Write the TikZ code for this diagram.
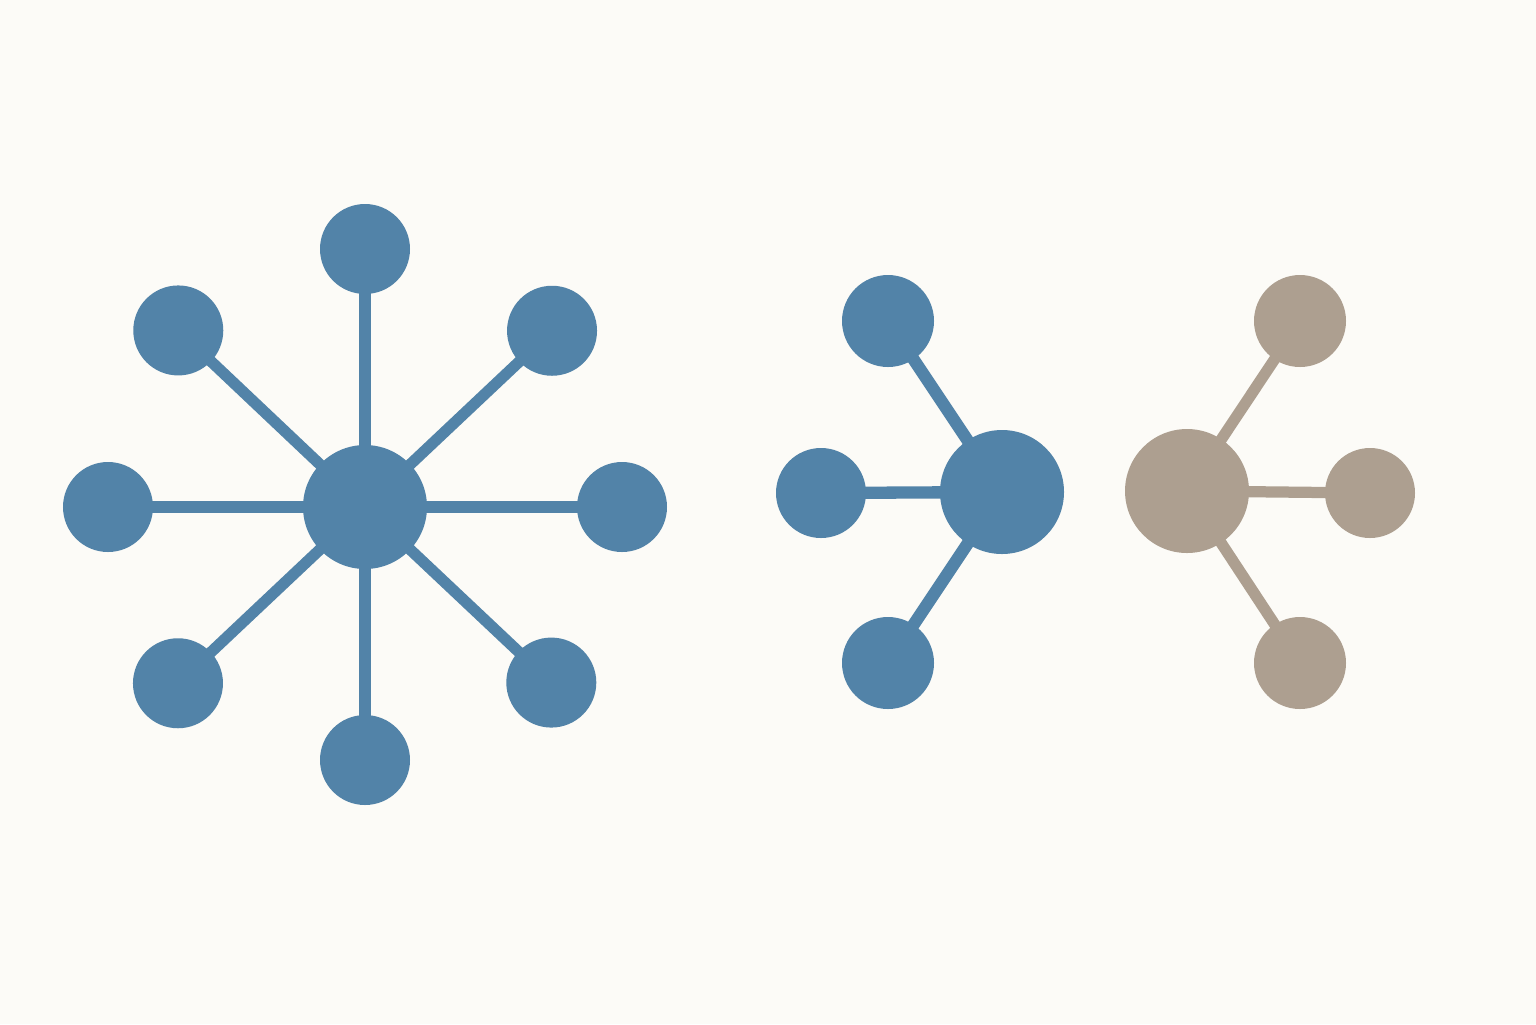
\documentclass[tikz,border=0pt]{standalone}
\usetikzlibrary{backgrounds}
\definecolor{paper}{HTML}{FCFBF7}
\definecolor{steel}{HTML}{5283A8}
\definecolor{sand}{HTML}{AD9F90}
\tikzset{
  leaf/.style={circle, fill=#1, minimum size=0.9cm, inner sep=0pt},
  leaf/.default=steel,
  hub/.style={circle, fill=#1, minimum size=1.24cm, inner sep=0pt},
  hub/.default=steel,
  link/.style={line width=3.2pt, draw=#1},
  link/.default=steel,
}
\begin{document}
\begin{tikzpicture}
      \begin{pgfonlayer}{background}
        \fill[paper] (0,0) rectangle (15.36,-10.24);
      \end{pgfonlayer}
      \useasboundingbox (0,0) rectangle (15.36,-10.24);
      \begin{scope}[shift={(3.65,-5.07)}]
        \draw
          (0,0) node[hub] (a){}
          (0.0:2.57) node[leaf] (a0){}
          (43.3:2.57) node[leaf] (a1){}
          (90.0:2.58) node[leaf] (a2){}
          (136.6:2.57) node[leaf] (a3){}
          (180.0:2.57) node[leaf] (a4){}
          (223.3:2.57) node[leaf] (a5){}
          (270.0:2.53) node[leaf] (a6){}
          (316.7:2.56) node[leaf] (a7){};
      \end{scope}
      \draw
        (10.02,-4.92) node[hub] (b){}
        (8.88,-3.21) node[leaf=steel, minimum size=0.92cm] (b0){}
        (8.21,-4.93) node[leaf] (b1){}
        (8.88,-6.63) node[leaf=steel, minimum size=0.92cm] (b2){}
        (11.87,-4.91) node[hub=sand] (c){}
        (13.00,-3.21) node[leaf=sand, minimum size=0.92cm] (c0){}
        (13.70,-4.93) node[leaf=sand] (c1){}
        (13.00,-6.63) node[leaf=sand, minimum size=0.92cm] (c2){};
      \begin{pgfonlayer}{background}
        \begin{scope}[link]
          \draw (a.center) to (a0.center);
          \draw (a.center) to (a1.center);
          \draw (a.center) to (a2.center);
          \draw (a.center) to (a3.center);
          \draw (a.center) to (a4.center);
          \draw (a.center) to (a5.center);
          \draw (a.center) to (a6.center);
          \draw (a.center) to (a7.center);
        \end{scope}
        \begin{scope}[link, line width=3.5pt]
          \draw (b.center) to (b0.center);
          \draw (b.center) to (b1.center);
          \draw (b.center) to (b2.center);
        \end{scope}
        \begin{scope}[link=sand]
          \draw (c.center) to (c0.center);
          \draw (c.center) to (c1.center);
          \draw (c.center) to (c2.center);
        \end{scope}
      \end{pgfonlayer}
    \end{tikzpicture}
\end{document}
